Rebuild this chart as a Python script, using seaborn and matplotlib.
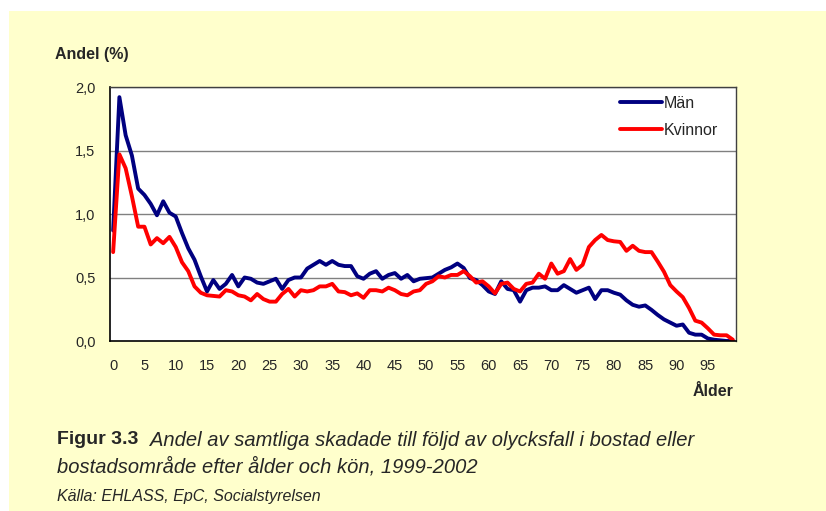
import numpy as np
import pandas as pd
import matplotlib
matplotlib.use("Agg")
import matplotlib.pyplot as plt
import seaborn as sns
from matplotlib.patches import Rectangle

# data, age 0-99
alder = list(range(100))
man = [0.87, 1.92, 1.62, 1.46, 1.20, 1.15, 1.08, 0.99, 1.10, 1.01,
       0.98, 0.85, 0.73, 0.64, 0.51, 0.39, 0.48, 0.41, 0.45, 0.52,
       0.43, 0.50, 0.49, 0.46, 0.45, 0.47, 0.49, 0.41, 0.48, 0.50,
       0.50, 0.57, 0.60, 0.63, 0.60, 0.63, 0.60, 0.59, 0.59, 0.51,
       0.49, 0.53, 0.55, 0.49, 0.52, 0.535, 0.49, 0.52, 0.47, 0.49,
       0.495, 0.50, 0.53, 0.56, 0.58, 0.61, 0.575, 0.495, 0.48, 0.44,
       0.39, 0.37, 0.47, 0.41, 0.40, 0.31, 0.40, 0.42, 0.42, 0.43,
       0.40, 0.40, 0.44, 0.41, 0.38, 0.40, 0.42, 0.33, 0.40, 0.40,
       0.38, 0.365, 0.32, 0.285, 0.27, 0.28, 0.245, 0.205, 0.17, 0.145,
       0.12, 0.13, 0.065, 0.05, 0.05, 0.02, 0.01, 0.005, 0.0, 0.0]
kvinnor = [0.70, 1.47, 1.36, 1.14, 0.90, 0.90, 0.76, 0.81, 0.77, 0.82,
           0.74, 0.62, 0.55, 0.43, 0.38, 0.36, 0.355, 0.35, 0.40, 0.39,
           0.36, 0.35, 0.32, 0.37, 0.33, 0.31, 0.31, 0.37, 0.41, 0.35,
           0.40, 0.39, 0.40, 0.43, 0.43, 0.45, 0.39, 0.385, 0.36, 0.375,
           0.34, 0.40, 0.40, 0.39, 0.42, 0.40, 0.37, 0.36, 0.39, 0.40,
           0.45, 0.47, 0.51, 0.50, 0.52, 0.52, 0.55, 0.51, 0.46, 0.47,
           0.43, 0.375, 0.45, 0.46, 0.41, 0.39, 0.45, 0.46, 0.53, 0.49,
           0.61, 0.53, 0.55, 0.645, 0.56, 0.60, 0.74, 0.795, 0.835, 0.795,
           0.785, 0.78, 0.71, 0.75, 0.71, 0.70, 0.70, 0.625, 0.545, 0.44,
           0.39, 0.345, 0.26, 0.16, 0.145, 0.10, 0.05, 0.045, 0.045, 0.01]
y_ticks = [0.0, 0.5, 1.0, 1.5, 2.0]
x_labels = list(range(0, 100, 5))

df = pd.DataFrame({
    "Ålder": alder * 2,
    "Andel": man + kvinnor,
    "Kön": ["Män"] * len(man) + ["Kvinnor"] * len(kvinnor),
})

sns.set_style("white")
plt.rcParams["font.family"] = ["Liberation Sans", "DejaVu Sans"]

W, H = 826, 511
fig = plt.figure(figsize=(W / 100, H / 100), dpi=100, facecolor="white")

# yellow page background (white strip left and top)
fig.patches.append(Rectangle((9 / W, 0), 1 - 9 / W, 1 - 11 / H,
                             transform=fig.transFigure, facecolor="#FFFFCC",
                             edgecolor="none", zorder=-10))

ax = fig.add_axes([110 / W, 1 - 341 / H, (736 - 110) / W, (341 - 87) / H])
ax.set_facecolor("white")

sns.lineplot(data=df, x="Ålder", y="Andel", hue="Kön",
             palette={"Män": "#000080", "Kvinnor": "#FF0000"},
             linewidth=2.8, ax=ax, legend=True)

ax.set_xlim(-0.5, 99.5)
ax.set_ylim(0, 2.0)
ax.set_yticks(y_ticks)
ax.set_yticklabels([f"{v:.1f}".replace(".", ",") for v in y_ticks], fontsize=10.5)
ax.set_xticks(x_labels)
ax.set_xticklabels([str(v) for v in x_labels], fontsize=10.5)
ax.set_xticks(np.arange(-0.5, 100, 5), minor=True)
ax.tick_params(axis="x", which="major", length=0, pad=13)
ax.tick_params(axis="x", which="minor", length=4, width=1, color="black", direction="out")
ax.tick_params(axis="y", length=4, width=1, color="black", direction="out", pad=6.5)
ax.set_xlabel("")
ax.set_ylabel("")

for v in y_ticks[1:]:
    ax.axhline(v, color="#808080", linewidth=1, zorder=0.5)

for side in ["left", "bottom"]:
    ax.spines[side].set_color("black")
    ax.spines[side].set_linewidth(1.2)
for side in ["top", "right"]:
    ax.spines[side].set_color("#404040")
    ax.spines[side].set_linewidth(1.0)
    ax.spines[side].set_visible(True)

ax.legend(title=None, loc="upper left", bbox_to_anchor=(620 / W, 1 - 96 / H),
          bbox_transform=fig.transFigure, frameon=False, fontsize=11.5,
          handlelength=2.6, handletextpad=0.15, labelspacing=0.75,
          borderpad=0, borderaxespad=0)

fig.text(55 / W, 1 - 54 / H, "Andel (%)", fontsize=11.5, fontweight="bold",
         ha="left", va="center")
fig.text(734 / W, 1 - 391 / H, "Ålder", fontsize=11.5, fontweight="bold",
         ha="right", va="center")

# caption
fig.text(57 / W, 1 - 440 / H, "Figur 3.3", fontsize=14, fontweight="bold",
         ha="left", va="center")
fig.text(150 / W, 1 - 440 / H,
         "Andel av samtliga skadade till följd av olycksfall i bostad eller",
         fontsize=14.5, style="italic", ha="left", va="center")
fig.text(57 / W, 1 - 467 / H, "bostadsområde efter ålder och kön, 1999-2002",
         fontsize=14.5, style="italic", ha="left", va="center")
fig.text(57 / W, 1 - 496 / H, "Källa: EHLASS, EpC, Socialstyrelsen",
         fontsize=11.5, style="italic", ha="left", va="center")

fig.savefig("out.png", dpi=100, facecolor=fig.get_facecolor())
